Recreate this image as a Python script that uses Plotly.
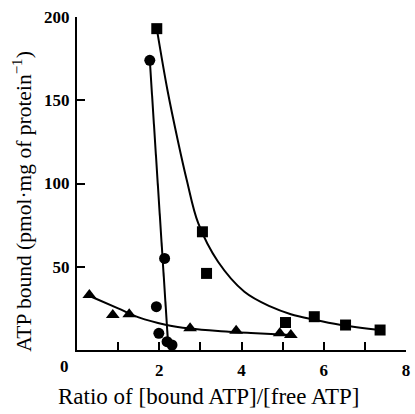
import plotly.graph_objects as go

# Data points
sq_x = [1.94, 3.05, 3.15, 5.07, 5.77, 6.53, 7.37]
sq_y = [193, 71, 46, 16.5, 20, 15, 12]

ci_x = [1.77, 2.13, 1.93, 1.99, 2.19, 2.31]
ci_y = [174, 55, 26, 10, 5, 3]

tr_x = [0.30, 0.87, 1.27, 2.75, 3.87, 4.93, 5.20]
tr_y = [33, 21, 21.5, 13, 11.5, 10, 9]

# Fitted curves
sq_fit_x = [1.94, 2.20, 2.45, 2.67, 2.95, 3.43, 4.07, 4.71, 5.20, 5.77, 6.39, 7.43]
sq_fit_y = [193, 156, 126, 102, 76, 53, 35, 26, 21.5, 18.2, 15.2, 11.8]

ci_fit_x = [1.77, 2.22]
ci_fit_y = [174, 2]

tr_fit_x = [0.35, 1.0, 1.5, 2.15, 2.75, 3.5, 4.23, 5.2]
tr_fit_y = [32, 25, 19.6, 15.2, 12.9, 11.3, 10.2, 9.0]

x_ticks = [0, 1, 2, 3, 4, 5, 6, 7, 8]
x_ticktext = ["", "", "2", "", "4", "", "6", "", "8"]
y_ticks = [0, 50, 100, 150, 200]
y_ticktext = ["", "50", "100", "150", "200"]

fig = go.Figure()
line_style = dict(color="black", width=2)
fig.add_trace(go.Scatter(x=sq_fit_x, y=sq_fit_y, mode="lines", line=dict(shape="spline", **line_style)))
fig.add_trace(go.Scatter(x=ci_fit_x, y=ci_fit_y, mode="lines", line=line_style))
fig.add_trace(go.Scatter(x=tr_fit_x, y=tr_fit_y, mode="lines", line=dict(shape="spline", **line_style)))

fig.add_trace(go.Scatter(x=sq_x, y=sq_y, mode="markers",
                         marker=dict(symbol="square", size=11, color="black")))
fig.add_trace(go.Scatter(x=ci_x, y=ci_y, mode="markers",
                         marker=dict(symbol="circle", size=11, color="black")))
fig.add_trace(go.Scatter(x=tr_x, y=tr_y, mode="markers",
                         marker=dict(symbol="triangle-up", size=12, color="black")))

tickfont = dict(family="Liberation Serif", size=17, color="black", weight="bold")
fig.update_layout(
    width=415, height=414,
    margin=dict(l=77, r=5, t=17, b=64),
    plot_bgcolor="white", paper_bgcolor="white",
    showlegend=False,
    xaxis=dict(range=[0, 8], tickvals=x_ticks, ticktext=x_ticktext,
               ticks="inside", ticklen=8, tickwidth=1.5, tickcolor="black",
               showline=True, linecolor="black", linewidth=2,
               showgrid=False, zeroline=False, tickfont=tickfont,
               ticklabelstandoff=4),
    yaxis=dict(range=[0, 200], tickvals=y_ticks, ticktext=y_ticktext,
               ticks="inside", ticklen=8, tickwidth=1.5, tickcolor="black",
               showline=True, linecolor="black", linewidth=2,
               showgrid=False, zeroline=False, tickfont=tickfont,
               ticklabelstandoff=2),
    annotations=[
        dict(text="0", xref="paper", yref="paper", x=-0.039, y=-0.051,
             xanchor="center", yanchor="middle",
             showarrow=False, font=tickfont),
        dict(text="Ratio of [bound ATP]/[free ATP]", xref="paper", yref="paper",
             x=0.40, y=-0.141, xanchor="center", yanchor="middle", showarrow=False,
             font=dict(family="Liberation Serif", size=23, color="black")),
        dict(text="ATP bound (pmol·mg of protein<sup>−1</sup>)", xref="paper", yref="paper",
             x=-0.164, y=0.445, xanchor="center", yanchor="middle",
             textangle=-90, showarrow=False,
             font=dict(family="Liberation Serif", size=21.5, color="black")),
    ],
)

fig.write_html("out.html")
